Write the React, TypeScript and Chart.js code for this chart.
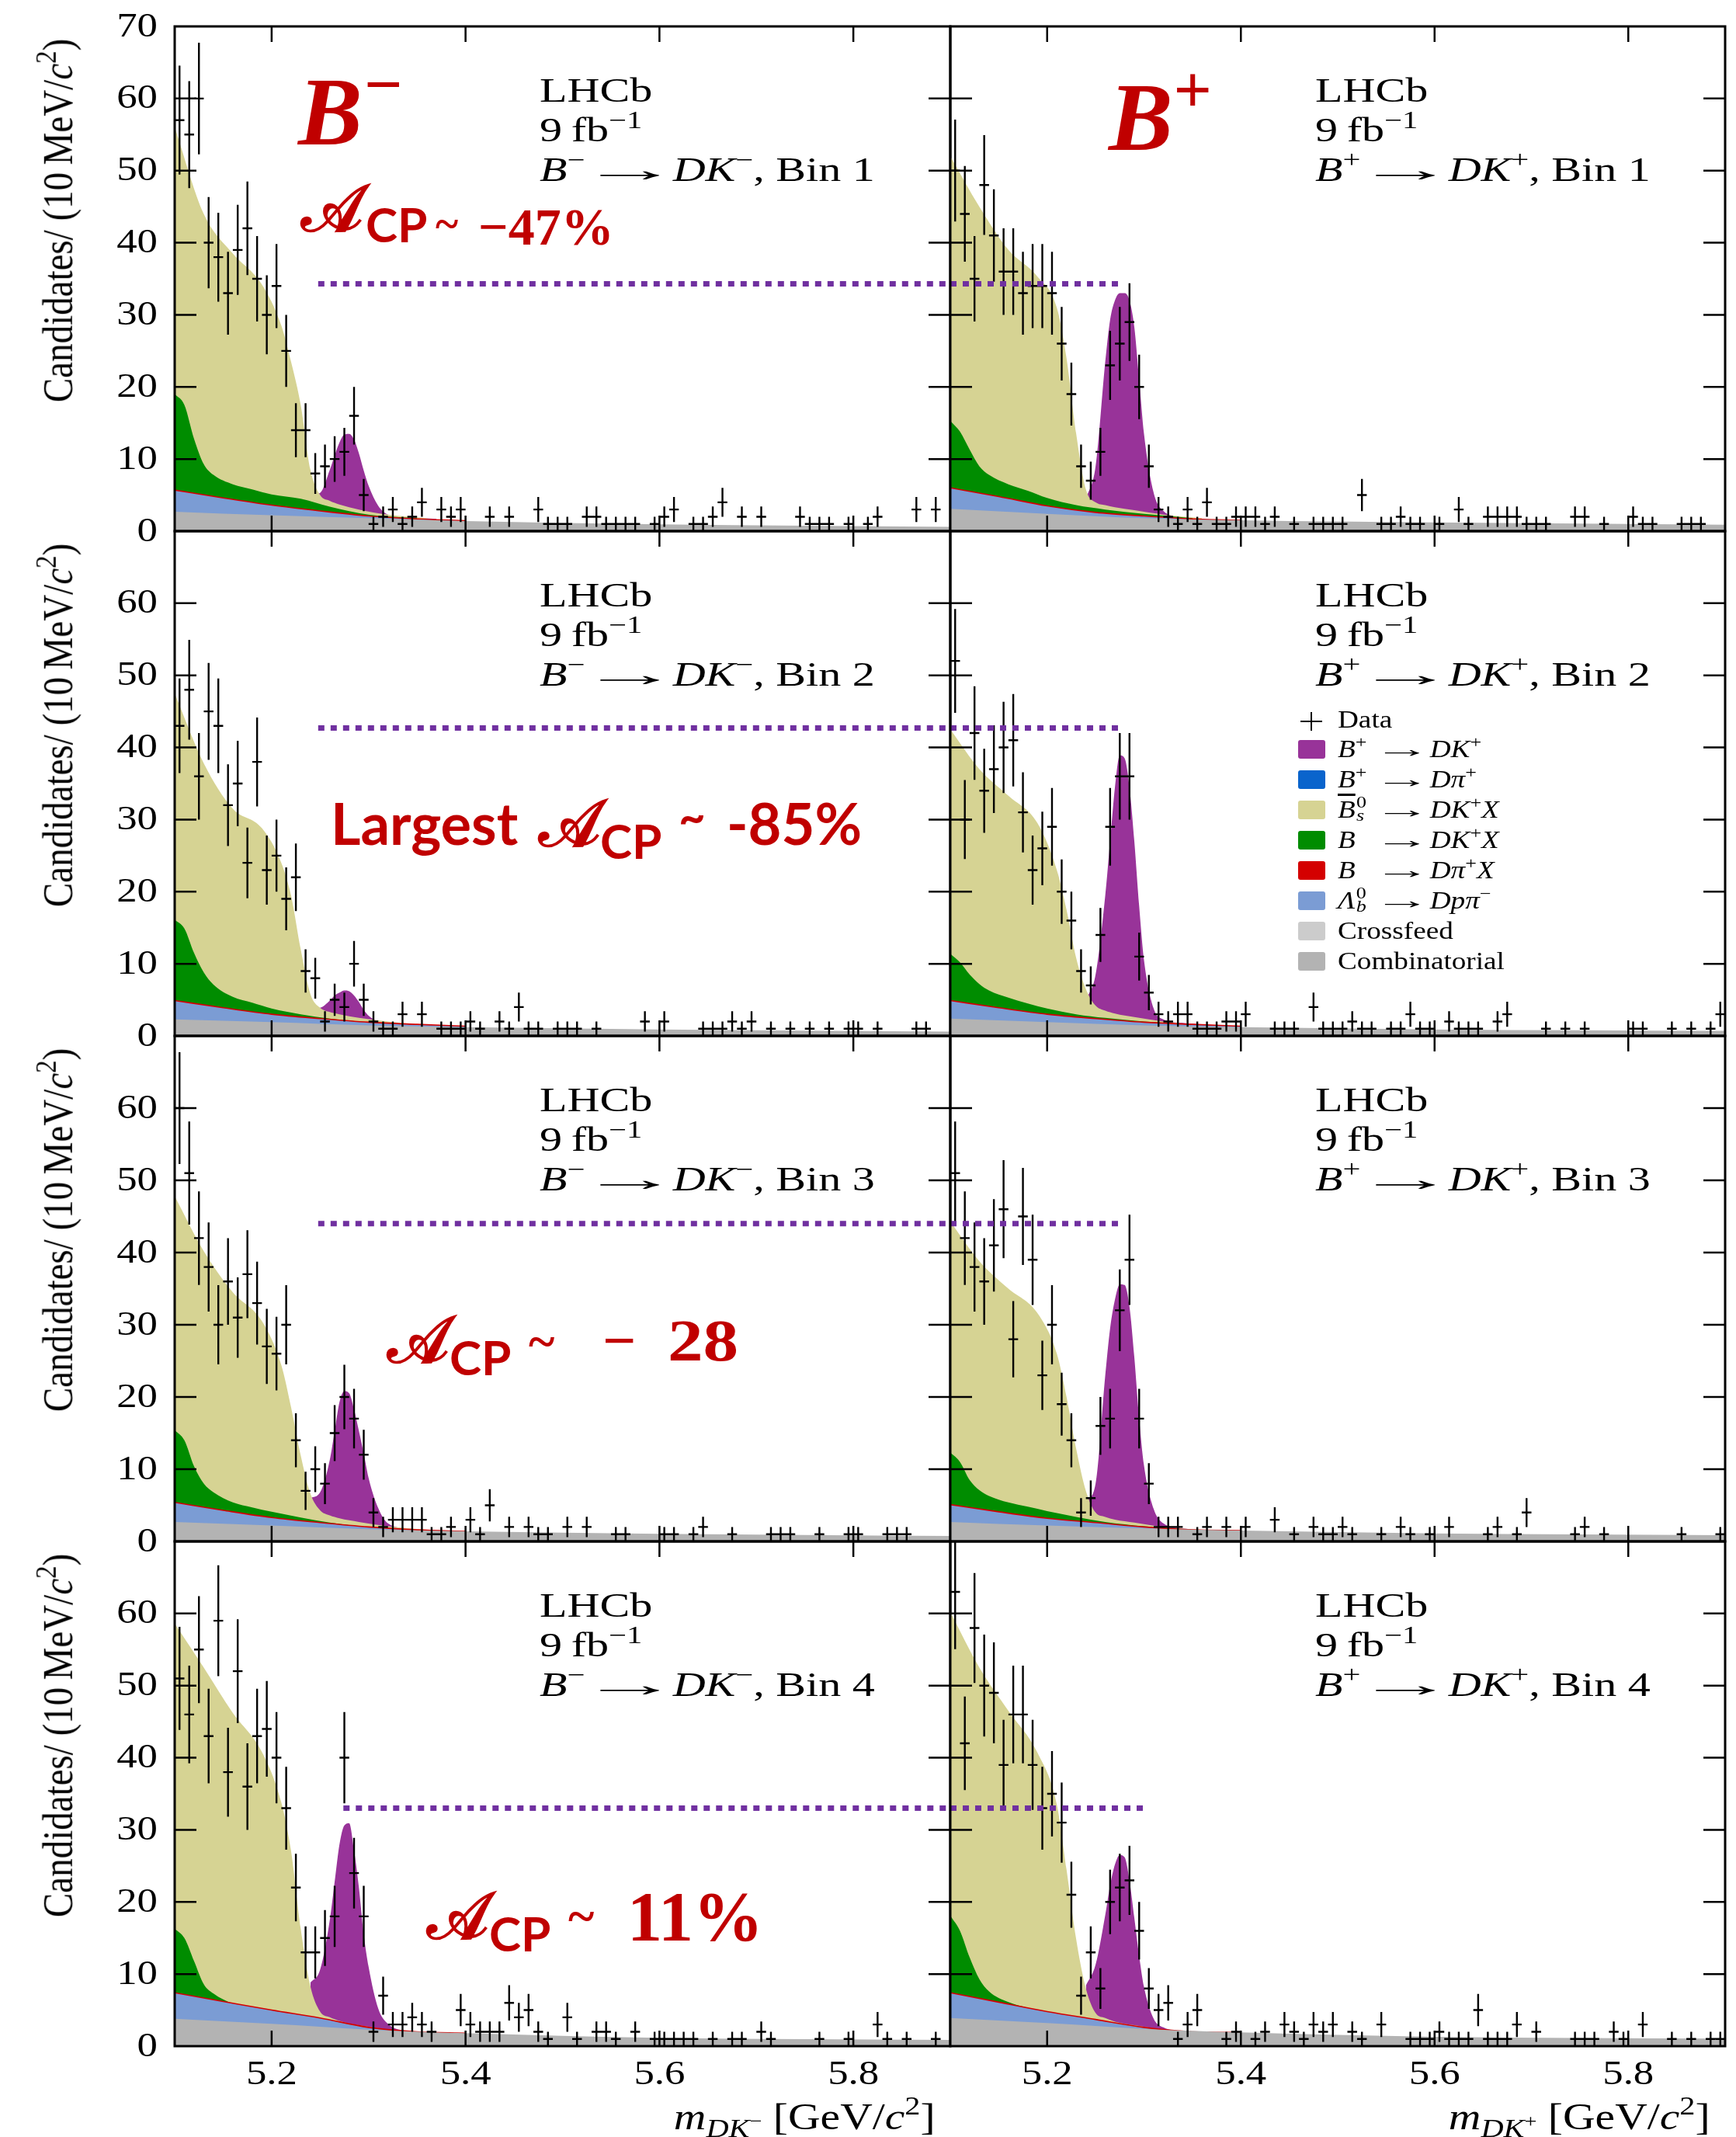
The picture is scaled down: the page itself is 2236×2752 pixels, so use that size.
import React, { useEffect, useRef } from "react";
import { Chart, registerables } from "chart.js";

Chart.register(...registerables);

// ---------------- axes / binning ----------------
const X_MIN = 5.1;
const X_MAX = 5.9;
const Y_MIN = 0;
const Y_MAX = 70;
const BIN_LOW = 5.1;
const BIN_WIDTH = 0.01;
const X_TICKS = [5.2, 5.4, 5.6, 5.8];
const Y_TICKS_FIRST_ROW = [0, 10, 20, 30, 40, 50, 60, 70];
const Y_TICKS_OTHER_ROWS = [0, 10, 20, 30, 40, 50, 60];

// ---------------- data: candidates per 10 MeV bin (80 bins, 5.10-5.90 GeV) ----------------
const COUNTS_BM_BIN1 = [57, 55, 60, 40, 38, 33, 39, 42, 35, 30, 34, 25, 14, 14, 8, 9, 10, 11, 16, 5, 1, 2, 3, 1, 2, 4, 0, 3, 2, 3, 0, 0, 2, 0, 2, 0, 0, 3, 1, 1, 1, 0, 2, 2, 1, 1, 1, 1, 0, 1, 2, 3, 0, 1, 1, 2, 4, 0, 2, 0, 2, 0, 0, 0, 2, 1, 1, 1, 0, 1, 0, 1, 2, 0, 0, 0, 3, 0, 3, 0];
const COUNTS_BP_BIN1 = [50, 44, 35, 48, 41, 36, 36, 33, 34, 34, 33, 26, 19, 9, 7, 11, 23, 26, 29, 20, 9, 3, 2, 1, 3, 1, 4, 1, 1, 2, 2, 2, 1, 2, 0, 1, 0, 1, 1, 1, 1, 0, 5, 0, 1, 1, 2, 1, 1, 0, 1, 0, 3, 1, 0, 2, 2, 2, 2, 1, 1, 1, 0, 0, 2, 2, 0, 1, 0, 0, 2, 1, 1, 0, 0, 1, 1, 1, 0, 0];
const COUNTS_BM_BIN2 = [43, 48, 36, 45, 43, 32, 35, 24, 38, 23, 25, 19, 22, 9, 8, 2, 5, 4, 10, 5, 2, 1, 1, 3, 0, 3, 0, 1, 1, 1, 2, 1, 0, 2, 1, 4, 1, 1, 0, 1, 1, 1, 0, 1, 0, 0, 0, 0, 2, 0, 2, 0, 0, 0, 1, 1, 1, 2, 1, 2, 0, 1, 0, 1, 0, 1, 0, 1, 0, 1, 1, 0, 1, 0, 0, 0, 1, 1, 0, 0];
const COUNTS_BP_BIN2 = [52, 30, 42, 34, 37, 40, 41, 31, 23, 26, 29, 20, 16, 9, 7, 14, 29, 36, 36, 11, 6, 3, 2, 3, 3, 1, 1, 1, 2, 2, 3, 0, 0, 1, 1, 1, 0, 4, 1, 1, 1, 2, 1, 1, 0, 1, 1, 3, 1, 1, 0, 2, 1, 1, 1, 0, 2, 3, 0, 0, 0, 1, 0, 1, 0, 1, 0, 0, 0, 0, 1, 1, 0, 0, 1, 0, 1, 0, 1, 3];
const COUNTS_BM_BIN3 = [60, 51, 42, 38, 30, 36, 31, 37, 33, 27, 26, 30, 14, 7, 10, 8, 15, 20, 17, 12, 4, 2, 3, 3, 3, 3, 1, 1, 2, 0, 3, 1, 5, 0, 2, 0, 2, 1, 1, 0, 2, 0, 2, 0, 0, 1, 1, 0, 0, 0, 1, 1, 0, 1, 2, 0, 0, 1, 0, 0, 0, 1, 1, 1, 0, 0, 1, 0, 0, 1, 1, 0, 0, 1, 1, 1, 0, 0, 0, 0];
const COUNTS_BP_BIN3 = [51, 42, 38, 36, 41, 46, 28, 45, 39, 23, 30, 19, 14, 4, 6, 16, 17, 32, 39, 17, 8, 2, 2, 2, 0, 1, 2, 0, 2, 0, 2, 0, 0, 3, 0, 1, 0, 2, 1, 1, 2, 1, 0, 0, 1, 0, 2, 1, 0, 1, 0, 2, 0, 0, 0, 1, 2, 0, 1, 4, 0, 0, 0, 0, 1, 2, 0, 1, 0, 0, 0, 0, 0, 0, 0, 1, 0, 0, 0, 1];
const COUNTS_BM_BIN4 = [51, 46, 55, 43, 59, 38, 52, 36, 43, 44, 40, 33, 22, 13, 13, 15, 18, 40, 24, 18, 2, 7, 3, 3, 4, 3, 2, 0, 0, 5, 3, 2, 2, 2, 6, 4, 5, 2, 1, 0, 4, 1, 0, 2, 2, 1, 0, 2, 0, 1, 1, 1, 1, 1, 0, 1, 0, 1, 1, 0, 2, 1, 0, 0, 0, 0, 1, 0, 0, 1, 0, 0, 3, 1, 0, 1, 0, 0, 1, 0];
const COUNTS_BP_BIN4 = [63, 42, 58, 50, 49, 39, 46, 46, 39, 33, 35, 31, 21, 7, 13, 8, 20, 22, 23, 16, 8, 5, 6, 1, 3, 5, 0, 0, 1, 2, 0, 1, 2, 0, 3, 2, 1, 3, 2, 3, 0, 2, 1, 0, 3, 0, 0, 1, 1, 1, 2, 1, 1, 1, 5, 1, 1, 1, 3, 0, 2, 0, 0, 0, 1, 1, 1, 0, 2, 1, 0, 3, 0, 0, 1, 0, 1, 0, 1, 1];

// ---------------- fit: upper edges of the drawn (stacked) components ----------------
const X_COMB = [5.1, 5.2, 5.3, 5.4, 5.6, 5.9];
const X_LAMB = [5.1, 5.15, 5.2, 5.25, 5.3, 5.35, 5.4];
const X_GREEN = [5.1, 5.11, 5.12, 5.13, 5.14, 5.16, 5.18, 5.2, 5.23, 5.26, 5.3, 5.35];
const X_KHAKI = [5.1, 5.13, 5.16, 5.19, 5.21, 5.22, 5.23, 5.24, 5.25, 5.26, 5.27, 5.29, 5.32, 5.36];
const X_PEAK = [5.24, 5.25, 5.26, 5.265, 5.27, 5.275, 5.28, 5.285, 5.29, 5.295, 5.3, 5.31, 5.32, 5.34, 5.37];

const COMB_BM_BIN1 = [2.7, 2.2, 1.8, 1.4, 0.95, 0.6];
const LAMB_BM_BIN1 = [5.7, 4.6, 3.6, 2.8, 2.1, 1.7, 1.45];
const GREEN_BM_BIN1 = [19.0, 17.5, 12.8, 9.3, 7.8, 6.5, 5.8, 5.1, 4.5, 3.4, 2.3, 1.8];
const KHAKI_BM_BIN1 = [56.0, 44.0, 38.5, 34.2, 28.5, 23.5, 17.5, 8.5, 5.0, 4.2, 3.7, 3.0, 2.3, 1.8];
const PEAK_BM_BIN1 = [5.0, 5.3, 8.5, 10.5, 12.3, 13.4, 13.5, 12.7, 10.8, 8.4, 6.3, 3.5, 2.3, 1.9, 1.7];

const COMB_BP_BIN1 = [3.1, 2.4, 1.8, 1.5, 1.2, 0.9];
const LAMB_BP_BIN1 = [6.0, 4.8, 3.5, 2.6, 2.1, 1.7, 1.5];
const GREEN_BP_BIN1 = [15.3, 13.8, 11.3, 9.0, 7.8, 6.5, 5.6, 4.6, 3.6, 3.0, 2.4, 1.8];
const KHAKI_BP_BIN1 = [52.0, 45.0, 39.0, 35.3, 31.0, 24.0, 13.5, 5.8, 4.0, 3.6, 3.3, 2.9, 2.3, 1.8];
const PEAK_BP_BIN1 = [4.5, 9.0, 23.5, 29.3, 32.0, 33.0, 33.0, 32.0, 28.3, 21.0, 13.5, 5.3, 2.8, 1.9, 1.6];

const COMB_BM_BIN2 = [2.3, 1.9, 1.45, 1.2, 0.9, 0.6];
const LAMB_BM_BIN2 = [4.9, 3.9, 3.0, 2.4, 1.9, 1.6, 1.35];
const GREEN_BM_BIN2 = [16.1, 14.9, 11.5, 8.8, 7.1, 5.4, 4.6, 3.8, 3.0, 2.4, 1.9, 1.5];
const KHAKI_BM_BIN2 = [47.5, 37.8, 31.5, 28.8, 24.0, 19.5, 12.0, 5.8, 3.9, 3.3, 3.0, 2.5, 2.0, 1.5];
const PEAK_BM_BIN2 = [3.8, 3.9, 4.9, 5.6, 6.0, 6.3, 6.2, 5.6, 4.7, 3.6, 2.8, 2.0, 1.8, 1.5, 1.4];

const COMB_BP_BIN2 = [2.4, 1.9, 1.45, 1.2, 0.9, 0.7];
const LAMB_BP_BIN2 = [4.9, 3.9, 3.0, 2.4, 1.9, 1.6, 1.35];
const GREEN_BP_BIN2 = [11.4, 10.2, 8.5, 7.2, 6.3, 5.3, 4.5, 3.8, 3.0, 2.5, 2.0, 1.6];
const KHAKI_BP_BIN2 = [42.5, 37.0, 33.3, 29.5, 23.0, 17.5, 10.8, 6.5, 4.2, 3.5, 3.1, 2.6, 2.0, 1.5];
const PEAK_BP_BIN2 = [5.0, 8.5, 19.5, 27.0, 34.5, 38.9, 38.5, 34.5, 27.0, 18.0, 10.5, 3.8, 2.3, 1.8, 1.5];

const COMB_BM_BIN3 = [2.7, 2.2, 1.7, 1.4, 1.05, 0.75];
const LAMB_BM_BIN3 = [5.4, 4.3, 3.3, 2.6, 2.0, 1.6, 1.4];
const GREEN_BM_BIN3 = [15.4, 14.0, 10.4, 8.0, 6.8, 5.4, 4.7, 4.1, 3.3, 2.6, 2.0, 1.6];
const KHAKI_BM_BIN3 = [47.8, 40.2, 34.5, 30.5, 24.4, 18.6, 11.9, 6.6, 4.3, 3.6, 3.2, 2.7, 2.1, 1.6];
const PEAK_BM_BIN3 = [6.0, 6.8, 11.3, 15.3, 19.3, 20.8, 20.5, 18.3, 15.3, 12.2, 8.8, 4.6, 2.5, 1.8, 1.5];

const COMB_BP_BIN3 = [2.7, 2.2, 1.8, 1.5, 1.1, 0.85];
const LAMB_BP_BIN3 = [5.1, 4.1, 3.2, 2.6, 2.0, 1.6, 1.5];
const GREEN_BP_BIN3 = [12.3, 11.0, 8.5, 7.1, 6.3, 5.4, 4.8, 4.2, 3.4, 2.7, 2.1, 1.6];
const KHAKI_BP_BIN3 = [44.3, 38.8, 35.0, 31.6, 26.0, 20.0, 12.8, 7.0, 4.0, 3.4, 3.0, 2.6, 2.0, 1.6];
const PEAK_BP_BIN3 = [5.5, 8.0, 23.0, 29.5, 33.5, 35.6, 35.5, 32.5, 25.5, 17.0, 10.5, 4.5, 2.5, 1.8, 1.5];

const COMB_BM_BIN4 = [3.8, 3.1, 2.3, 1.8, 1.15, 0.85];
const LAMB_BM_BIN4 = [7.4, 6.2, 5.0, 3.9, 2.6, 2.0, 1.8];
const GREEN_BM_BIN4 = [16.3, 15.0, 11.8, 8.6, 7.3, 5.9, 5.1, 4.5, 3.6, 2.9, 2.4, 1.9];
const KHAKI_BM_BIN4 = [58.6, 52.5, 46.2, 40.8, 33.8, 27.1, 16.3, 8.3, 4.8, 4.0, 3.5, 2.9, 2.3, 1.8];
const PEAK_BM_BIN4 = [8.8, 10.6, 17.5, 22.8, 28.0, 30.6, 30.9, 27.2, 22.0, 15.5, 11.0, 5.2, 3.1, 2.1, 1.8];

const COMB_BP_BIN4 = [3.9, 3.2, 2.4, 1.9, 1.3, 1.05];
const LAMB_BP_BIN4 = [7.4, 6.1, 4.8, 3.7, 2.6, 2.0, 1.9];
const GREEN_BP_BIN4 = [18.1, 16.0, 12.3, 9.3, 7.6, 6.1, 5.3, 4.6, 3.8, 3.0, 2.5, 2.0];
const KHAKI_BP_BIN4 = [60.2, 52.5, 46.5, 40.7, 33.5, 24.5, 14.8, 8.0, 4.6, 3.9, 3.4, 2.9, 2.3, 1.9];
const PEAK_BP_BIN4 = [8.4, 11.3, 18.2, 22.3, 25.2, 26.5, 26.2, 23.0, 17.8, 12.5, 8.2, 3.8, 2.6, 2.1, 1.9];

// dotted guide lines (height, start in B- panel, end in B+ panel)
const DASH_Y = [34.3, 42.7, 44.0, 33.0];
const DASH_FROM = [5.248, 5.248, 5.248, 5.274];
const DASH_TO = [5.276, 5.274, 5.274, 5.302];

// ---------------- style ----------------
const COLORS = {
  signal: "#983399",
  dpi: "#0a64cc",
  khaki: "#d6d393",
  green: "#008c00",
  red: "#d40000",
  lamb: "#7b9cd4",
  cross: "#cccccc",
  comb: "#b3b3b3",
};
const GUIDE = "#7030a0";
const RED_TEXT = "#c00000";
const SERIF = '"Liberation Serif", "DejaVu Serif", serif';
const SANS = 'Lato, "Open Sans", "Noto Sans", sans-serif';
const MATHSCRIPT = '"DejaVu Serif", "DejaVu Sans", serif';
const CANVAS_FONT = '44px "Liberation Serif", "DejaVu Serif", serif';

const ROW_TOP = [34, 684, 1334, 1985];
const ROW_BOTTOM = [684, 1334, 1985, 2635];
const COL_LEFT = [225, 1224];
const COL_RIGHT = [1224, 2222];

const PANELS = [
  { row: 0, col: 0, counts: COUNTS_BM_BIN1, comb: COMB_BM_BIN1, lamb: LAMB_BM_BIN1, green: GREEN_BM_BIN1, khaki: KHAKI_BM_BIN1, peak: PEAK_BM_BIN1 },
  { row: 0, col: 1, counts: COUNTS_BP_BIN1, comb: COMB_BP_BIN1, lamb: LAMB_BP_BIN1, green: GREEN_BP_BIN1, khaki: KHAKI_BP_BIN1, peak: PEAK_BP_BIN1 },
  { row: 1, col: 0, counts: COUNTS_BM_BIN2, comb: COMB_BM_BIN2, lamb: LAMB_BM_BIN2, green: GREEN_BM_BIN2, khaki: KHAKI_BM_BIN2, peak: PEAK_BM_BIN2 },
  { row: 1, col: 1, counts: COUNTS_BP_BIN2, comb: COMB_BP_BIN2, lamb: LAMB_BP_BIN2, green: GREEN_BP_BIN2, khaki: KHAKI_BP_BIN2, peak: PEAK_BP_BIN2 },
  { row: 2, col: 0, counts: COUNTS_BM_BIN3, comb: COMB_BM_BIN3, lamb: LAMB_BM_BIN3, green: GREEN_BM_BIN3, khaki: KHAKI_BM_BIN3, peak: PEAK_BM_BIN3 },
  { row: 2, col: 1, counts: COUNTS_BP_BIN3, comb: COMB_BP_BIN3, lamb: LAMB_BP_BIN3, green: GREEN_BP_BIN3, khaki: KHAKI_BP_BIN3, peak: PEAK_BP_BIN3 },
  { row: 3, col: 0, counts: COUNTS_BM_BIN4, comb: COMB_BM_BIN4, lamb: LAMB_BM_BIN4, green: GREEN_BM_BIN4, khaki: KHAKI_BM_BIN4, peak: PEAK_BM_BIN4 },
  { row: 3, col: 1, counts: COUNTS_BP_BIN4, comb: COMB_BP_BIN4, lamb: LAMB_BP_BIN4, green: GREEN_BP_BIN4, khaki: KHAKI_BP_BIN4, peak: PEAK_BP_BIN4 },
];

const DATA_INDEX = 5;

function geometry(p: any) {
  const padL = p.col === 0 ? 130 : 10;
  const padR = 12;
  const padT = 30;
  const padB = p.row === 3 ? 80 : 30;
  const x0 = COL_LEFT[p.col];
  const x1 = COL_RIGHT[p.col];
  const y0 = ROW_TOP[p.row];
  const y1 = ROW_BOTTOM[p.row];
  return {
    padL, padR, padT, padB,
    left: x0 - padL,
    top: y0 - padT,
    width: x1 - x0 + padL + padR,
    height: y1 - y0 + padT + padB,
  };
}

function decorPlugin(p: any) {
  return {
    id: "lhcbDecor",
    afterDatasetsDraw(chart: any) {
      const { ctx, chartArea: a, scales } = chart;
      const xs = scales.x;
      const ys = scales.y;
      ctx.save();
      ctx.beginPath();
      ctx.rect(a.left, a.top, a.right - a.left, a.bottom - a.top);
      ctx.clip();
      // data points with error bars
      const meta = chart.getDatasetMeta(DATA_INDEX);
      const values = chart.data.datasets[DATA_INDEX].data;
      ctx.strokeStyle = "#000";
      ctx.lineWidth = 2.4;
      ctx.lineCap = "butt";
      ctx.beginPath();
      meta.data.forEach((el: any, i: number) => {
        const v = values[i];
        const n = v.y;
        if (!(n > 0)) return;
        const err = Math.sqrt(n);
        const yTop = ys.getPixelForValue(n + err);
        const yBot = ys.getPixelForValue(Math.max(0, n - err));
        const xL = xs.getPixelForValue(v.x - BIN_WIDTH / 2);
        const xR = xs.getPixelForValue(v.x + BIN_WIDTH / 2);
        ctx.moveTo(el.x, yTop);
        ctx.lineTo(el.x, yBot);
        ctx.moveTo(xL, el.y);
        ctx.lineTo(xR, el.y);
      });
      ctx.stroke();
      // dotted guide
      const gy = ys.getPixelForValue(DASH_Y[p.row]);
      const gx0 = p.col === 0 ? xs.getPixelForValue(DASH_FROM[p.row]) : a.left;
      const gx1 = p.col === 0 ? a.right : xs.getPixelForValue(DASH_TO[p.row]);
      ctx.strokeStyle = GUIDE;
      ctx.lineWidth = 7;
      ctx.setLineDash([8, 8]);
      ctx.beginPath();
      ctx.moveTo(gx0, gy);
      ctx.lineTo(gx1, gy);
      ctx.stroke();
      ctx.setLineDash([]);
      ctx.restore();
    },
    afterDraw(chart: any) {
      const { ctx, chartArea: a, scales } = chart;
      const xs = scales.x;
      const ys = scales.y;
      const yTicks = p.row === 0 ? Y_TICKS_FIRST_ROW : Y_TICKS_OTHER_ROWS;
      ctx.save();
      ctx.strokeStyle = "#000";
      ctx.lineWidth = 3;
      ctx.strokeRect(a.left, a.top, a.right - a.left, a.bottom - a.top);
      ctx.lineWidth = 2.5;
      ctx.beginPath();
      yTicks.forEach((v) => {
        if (v <= Y_MIN || v >= Y_MAX) return;
        const y = ys.getPixelForValue(v);
        ctx.moveTo(a.left, y);
        ctx.lineTo(a.left + 28, y);
        ctx.moveTo(a.right, y);
        ctx.lineTo(a.right - 28, y);
      });
      X_TICKS.forEach((v) => {
        const x = xs.getPixelForValue(v);
        ctx.moveTo(x, a.bottom);
        ctx.lineTo(x, a.bottom - 20);
        ctx.moveTo(x, a.top);
        ctx.lineTo(x, a.top + 20);
      });
      ctx.stroke();
      ctx.fillStyle = "#000";
      ctx.font = CANVAS_FONT;
      if (p.col === 0) {
        ctx.textAlign = "right";
        ctx.textBaseline = "middle";
        yTicks.forEach((v) => {
          const y = ys.getPixelForValue(v);
          ctx.save();
          ctx.translate(a.left - 22, y + 1);
          ctx.scale(1.2, 1);
          ctx.fillText(String(v), 0, 0);
          ctx.restore();
        });
      }
      if (p.row === 3) {
        ctx.textAlign = "center";
        ctx.textBaseline = "middle";
        X_TICKS.forEach((v) => {
          const x = xs.getPixelForValue(v);
          ctx.save();
          ctx.translate(x, a.bottom + 37);
          ctx.scale(1.2, 1);
          ctx.fillText(v.toFixed(1), 0, 0);
          ctx.restore();
        });
      }
      ctx.restore();
    },
  };
}

function band(label: string, xs: number[], ys: number[], color: string, border?: string, bw?: number) {
  return {
    label,
    data: xs.map((x, i) => ({ x, y: ys[i] })),
    backgroundColor: color,
    borderColor: border || "rgba(0,0,0,0)",
    borderWidth: bw || 1,
    pointRadius: 0,
    fill: "origin",
    cubicInterpolationMode: "monotone",
  };
}

function Panel({ p }: any) {
  const ref = useRef<HTMLCanvasElement>(null);
  const g = geometry(p);
  useEffect(() => {
    const chart = new Chart(ref.current as HTMLCanvasElement, {
      type: "line",
      data: {
        datasets: [
          band("Combinatorial", X_COMB, p.comb, COLORS.comb),
          band("Λb0 → Dpπ−", X_LAMB, p.lamb, COLORS.lamb, COLORS.red, 1.6),
          band("B → DK+X", X_GREEN, p.green, COLORS.green),
          band("Bs0 → DK+X", X_KHAKI, p.khaki, COLORS.khaki),
          band("B → DK", X_PEAK, p.peak, COLORS.signal),
          {
            label: "Data",
            data: p.counts.map((n: number, k: number) => ({ x: BIN_LOW + BIN_WIDTH * (k + 0.5), y: n })),
            showLine: false,
            pointRadius: 0,
            borderWidth: 0,
            fill: false,
          },
        ] as any,
      },
      options: {
        responsive: false,
        devicePixelRatio: 1,
        animation: false,
        events: [],
        layout: { padding: { left: g.padL, right: g.padR, top: g.padT, bottom: g.padB } },
        scales: {
          x: { type: "linear", min: X_MIN, max: X_MAX, display: false },
          y: { type: "linear", min: Y_MIN, max: Y_MAX, display: false },
        },
        plugins: { legend: { display: false }, tooltip: { enabled: false } },
      } as any,
      plugins: [decorPlugin(p)],
    });
    return () => chart.destroy();
  }, []);
  return (
    <canvas
      ref={ref}
      width={g.width}
      height={g.height}
      style={{ position: "absolute", left: g.left, top: g.top, width: g.width, height: g.height }}
    />
  );
}

// ---------------- text helpers ----------------
function T({ x, base, size, family = SERIF, color = "#000", weight = 400, italic = false, sx = 1, align = "left", children }: any) {
  const asc = family === SANS ? 0.887 : 0.84;
  const style: any = {
    position: "absolute",
    top: base - asc * size,
    fontFamily: family,
    fontSize: size,
    lineHeight: 1,
    whiteSpace: "nowrap",
    color,
    fontWeight: weight,
    fontStyle: italic ? "italic" : "normal",
    transform: `scaleX(${sx})`,
    transformOrigin: align === "left" ? "left top" : "right top",
  };
  if (align === "left") style.left = x;
  else style.right = 2236 - x;
  return <div style={style}>{children}</div>;
}
const Sup = ({ children, k = 0.7, r = -0.55 }: any) => (
  <span style={{ fontSize: `${k}em`, position: "relative", top: `${r}em` }}>{children}</span>
);
const Sub = ({ children, k = 0.7, r = 0.3 }: any) => (
  <span style={{ fontSize: `${k}em`, position: "relative", top: `${r}em` }}>{children}</span>
);
const SupSub = ({ sup, sub }: any) => (
  <span style={{ display: "inline-block", position: "relative", width: "0.42em", height: 1 }}>
    <span style={{ position: "absolute", left: "0.05em", bottom: "0.38em", fontSize: "0.7em", lineHeight: 1, fontStyle: "normal" }}>{sup}</span>
    <span style={{ position: "absolute", left: "0.05em", top: "-0.55em", fontSize: "0.7em", lineHeight: 1, fontStyle: "italic" }}>{sub}</span>
  </span>
);
// wide TeX-like arrow: a box of fixed width with the glyph stretched inside
const WideArrow = ({ w = 0.9, ml = 0.5, mr = 0.55, s = 2.2 }: any) => (
  <span style={{ display: "inline-block", width: `${w}em`, marginLeft: `${ml}em`, marginRight: `${mr}em`, textAlign: "center" }}>
    <span style={{ display: "inline-block", transform: `scaleX(${s})` }}>→</span>
  </span>
);

function LhcbLabel({ row, col }: any) {
  const top = ROW_TOP[row];
  const x = col === 0 ? 695 : 1694;
  const ch = col === 0 ? "−" : "+";
  return (
    <>
      <T x={x} base={top + 98} size={44} sx={1.32}>LHCb</T>
      <T x={x} base={top + 149} size={44} sx={1.32}>
        9{"\u2009"}fb<Sup>−1</Sup>
      </T>
      <T x={x} base={top + 200} size={44} sx={1.32}>
        <i>B</i>
        <Sup>{ch}</Sup>
        <WideArrow />
        <i>DK</i>
        <Sup>{ch}</Sup>, Bin {row + 1}
      </T>
    </>
  );
}

const Part = ({ children }: any) => <span style={{ display: "inline-block", width: 54 }}>{children}</span>;
const LArr = () => <WideArrow w={1.0} ml={0} mr={0.45} s={2.0} />;

const LEGEND_ITEMS = [
  { color: COLORS.signal, label: <><Part><i>B</i><Sup>+</Sup></Part><LArr /><i>DK</i><Sup>+</Sup></> },
  { color: COLORS.dpi, label: <><Part><i>B</i><Sup>+</Sup></Part><LArr /><i>Dπ</i><Sup>+</Sup></> },
  { color: COLORS.khaki, label: <><Part><i style={{ textDecoration: "overline" }}>B</i><SupSub sup="0" sub="s" /></Part><LArr /><i>DK</i><Sup>+</Sup><i>X</i></> },
  { color: COLORS.green, label: <><Part><i>B</i></Part><LArr /><i>DK</i><Sup>+</Sup><i>X</i></> },
  { color: COLORS.red, label: <><Part><i>B</i></Part><LArr /><i>Dπ</i><Sup>+</Sup><i>X</i></> },
  { color: COLORS.lamb, label: <><Part><i>Λ</i><SupSub sup="0" sub="b" /></Part><LArr /><i>Dpπ</i><Sup>−</Sup></> },
  { color: COLORS.cross, label: <>Crossfeed</> },
  { color: COLORS.comb, label: <>Combinatorial</> },
];

function Legend() {
  const x = 1723;
  const bases = [975, 1014, 1053, 1092, 1131, 1170, 1209, 1248];
  return (
    <>
      <div style={{ position: "absolute", left: 1688, top: 917, width: 2.4, height: 24, background: "#000" }} />
      <div style={{ position: "absolute", left: 1675, top: 928, width: 28, height: 2.4, background: "#000" }} />
      <T x={x} base={937} size={31} sx={1.2}>Data</T>
      {LEGEND_ITEMS.map((it, i) => (
        <React.Fragment key={i}>
          <div
            style={{
              position: "absolute",
              left: 1672,
              top: bases[i] - 22,
              width: 35,
              height: 24,
              background: it.color,
              borderRadius: 3,
            }}
          />
          <T x={x} base={bases[i]} size={31} sx={1.2}>{it.label}</T>
        </React.Fragment>
      ))}
    </>
  );
}

function YTitle({ row }: any) {
  return (
    <div
      style={{
        position: "absolute",
        left: 75,
        top: ROW_TOP[row] + 250,
        transform: "translate(-50%, -50%) rotate(-90deg) scaleY(1.15)",
        fontFamily: SERIF,
        fontSize: 47,
        lineHeight: 1,
        whiteSpace: "nowrap",
      }}
    >
      Candidates/ (10{"\u2009"}MeV/<i>c</i>
      <Sup>2</Sup>)
    </div>
  );
}

function RedNotes() {
  const R = RED_TEXT;
  return (
    <>
      <T x={384} base={187} size={124} weight={700} italic color={R}>B<Sup>−</Sup></T>
      <T x={1428} base={194} size={124} weight={700} italic color={R}>B<Sup>+</Sup></T>

      <T x={388} base={297} size={84} family={MATHSCRIPT} weight={700} color={R}>𝒜</T>
      <T x={471} base={312} size={62} family={SANS} weight={700} color={R}>CP</T>
      <T x={561} base={307} size={56} weight={700} color={R}>~</T>
      <T x={616} base={315} size={68} weight={700} color={R}>−47%</T>

      <T x={426} base={1089} size={74} family={SANS} weight={700} color={R}>Largest</T>
      <T x={694} base={1089} size={84} family={MATHSCRIPT} weight={700} color={R}>𝒜</T>
      <T x={773} base={1106} size={62} family={SANS} weight={700} color={R}>CP</T>
      <T x={874} base={1073} size={60} family={SANS} weight={700} color={R}>~</T>
      <T x={936} base={1089} size={74} family={SANS} weight={700} color={R}>-85%</T>

      <T x={499} base={1754} size={84} family={MATHSCRIPT} weight={700} color={R}>𝒜</T>
      <T x={579} base={1771} size={62} family={SANS} weight={700} color={R}>CP</T>
      <T x={681} base={1750} size={64} weight={700} color={R}>~</T>
      <T x={776} base={1752} size={76} weight={700} color={R}>−</T>
      <T x={860} base={1752} size={76} weight={700} color={R} sx={1.2}>28</T>

      <T x={550} base={2496} size={84} family={MATHSCRIPT} weight={700} color={R}>𝒜</T>
      <T x={630} base={2513} size={62} family={SANS} weight={700} color={R}>CP</T>
      <T x={732} base={2490} size={64} weight={700} color={R}>~</T>
      <T x={808} base={2500} size={90} weight={700} color={R}>11%</T>
    </>
  );
}

export default function App() {
  return (
    <div
      style={{
        position: "absolute",
        left: 0,
        top: 0,
        width: 2236,
        height: 2752,
        background: "#fff",
        overflow: "hidden",
      }}
    >
      {PANELS.map((p, i) => (
        <Panel key={i} p={p} />
      ))}
      {[0, 1, 2, 3].map((r) => (
        <YTitle key={r} row={r} />
      ))}
      {PANELS.map((p, i) => (
        <LhcbLabel key={"l" + i} row={p.row} col={p.col} />
      ))}
      <T x={1205} base={2742} size={48} sx={1.2} align="right">
        <i>m</i>
        <Sub>
          <i>DK</i>
          <Sup>−</Sup>
        </Sub>{" "}
        [GeV/<i>c</i>
        <Sup>2</Sup>]
      </T>
      <T x={2203} base={2742} size={48} sx={1.2} align="right">
        <i>m</i>
        <Sub>
          <i>DK</i>
          <Sup>+</Sup>
        </Sub>{" "}
        [GeV/<i>c</i>
        <Sup>2</Sup>]
      </T>
      <Legend />
      <RedNotes />
    </div>
  );
}
